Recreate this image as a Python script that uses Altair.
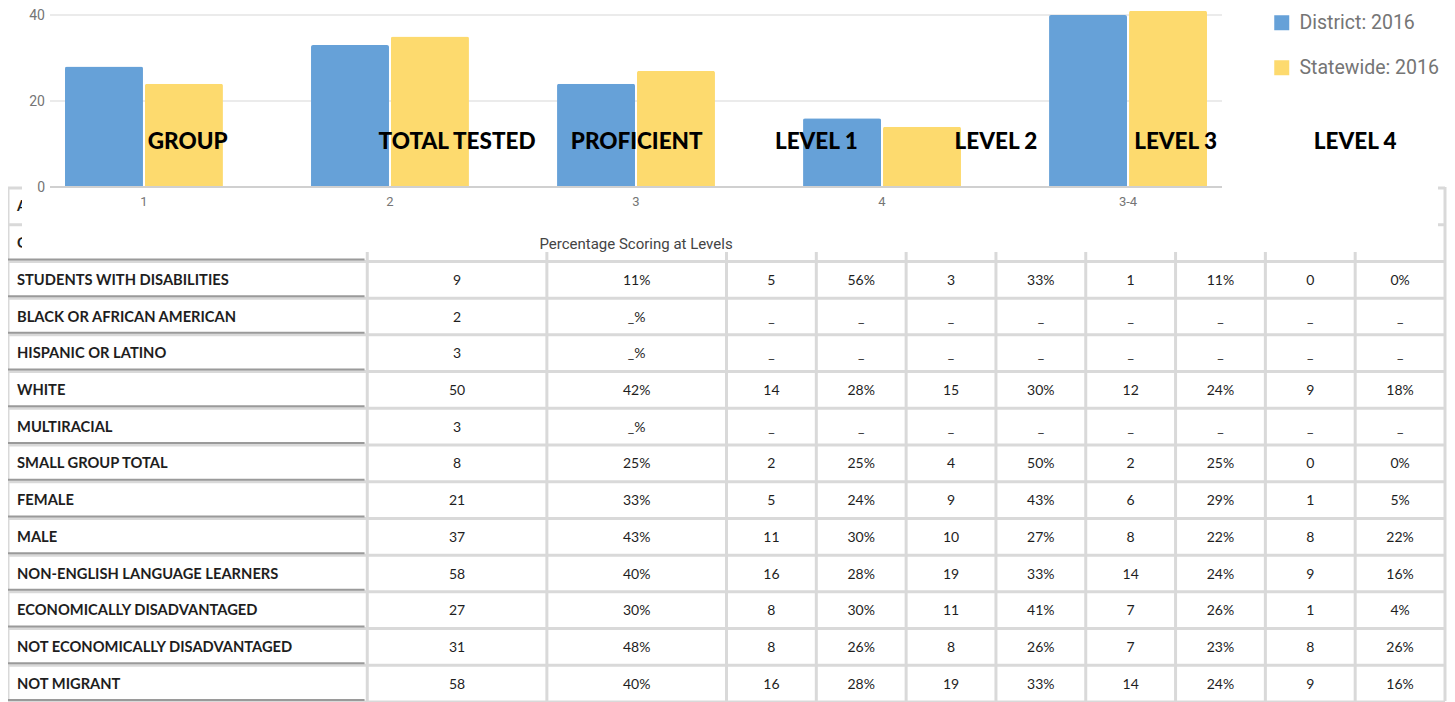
import altair as alt
import pandas as pd

# ---------------- data ----------------
categories = ["1", "2", "3", "4", "3-4"]
series_names = ["District: 2016", "Statewide: 2016"]
district_values = [28, 33, 24, 16, 40]
statewide_values = [24, 35, 27, 14, 41]
y_tick_values = [0, 20, 40]
x_axis_title = "Percentage Scoring at Levels"

header_labels = ["GROUP", "TOTAL TESTED", "PROFICIENT", "LEVEL 1", "LEVEL 2", "LEVEL 3", "LEVEL 4"]
hidden_row_labels = ["A", "G"]

groups = [
    "STUDENTS WITH DISABILITIES", "BLACK OR AFRICAN AMERICAN", "HISPANIC OR LATINO",
    "WHITE", "MULTIRACIAL", "SMALL GROUP TOTAL", "FEMALE", "MALE",
    "NON-ENGLISH LANGUAGE LEARNERS", "ECONOMICALLY DISADVANTAGED",
    "NOT ECONOMICALLY DISADVANTAGED", "NOT MIGRANT",
]
total_tested = ["9", "2", "3", "50", "3", "8", "21", "37", "58", "27", "31", "58"]
proficient = ["11%", "_%", "_%", "42%", "_%", "25%", "33%", "43%", "40%", "30%", "48%", "40%"]
level1_n = ["5", "_", "_", "14", "_", "2", "5", "11", "16", "8", "8", "16"]
level1_pct = ["56%", "_", "_", "28%", "_", "25%", "24%", "30%", "28%", "30%", "26%", "28%"]
level2_n = ["3", "_", "_", "15", "_", "4", "9", "10", "19", "11", "8", "19"]
level2_pct = ["33%", "_", "_", "30%", "_", "50%", "43%", "27%", "33%", "41%", "26%", "33%"]
level3_n = ["1", "_", "_", "12", "_", "2", "6", "8", "14", "7", "7", "14"]
level3_pct = ["11%", "_", "_", "24%", "_", "25%", "29%", "22%", "24%", "26%", "23%", "24%"]
level4_n = ["0", "_", "_", "9", "_", "0", "1", "8", "9", "1", "8", "9"]
level4_pct = ["0%", "_", "_", "18%", "_", "0%", "5%", "22%", "16%", "4%", "26%", "16%"]

# ---------------- layout / style ----------------
W, H = 1439, 694
BLUE, YELLOW = "#66A1D8", "#FDDA6E"
GRID_LIGHT = "#d9d9d9"
TEXT_GRAY = "#757575"

col_edges = [0, 4, 6, 8, 9, 10, 11, 12, 13, 14, 15, 16]   # table column units
n_rows = 2 + len(groups)

def TX():
    return alt.Scale(domain=[0, 16], range=[0, 1437])

def TY():
    return alt.Scale(domain=[0, n_rows], range=[179, 693])

def BX():
    return alt.Scale(domain=categories, range=[42, 1214], paddingInner=0.358, paddingOuter=0.061)

def BY():
    return alt.Scale(domain=[0, 40], range=[179, 7])

# ---------------- table frames ----------------
hl_df = pd.DataFrame({"y": list(range(n_rows + 1)), "x0": 0, "x1": 16})
vl_df = pd.DataFrame({"x": col_edges, "y0": 0, "y1": n_rows})
dark_df = pd.DataFrame({"y": list(range(2, n_rows + 1)), "x0": 0, "x1": 3.97})

label_rows = []
for i, lab in enumerate(hidden_row_labels + groups):
    label_rows.append({"label": lab, "row": i + 0.5, "x": 0})
labels_df = pd.DataFrame(label_rows)

value_cols = [total_tested, proficient, level1_n, level1_pct, level2_n, level2_pct,
              level3_n, level3_pct, level4_n, level4_pct]
value_rows = []
for i in range(len(groups)):
    for k, col in enumerate(value_cols):
        xc = (col_edges[k + 1] + col_edges[k + 2]) / 2
        value_rows.append({"txt": col[i], "row": i + 2.5, "x": xc})
values_df = pd.DataFrame(value_rows)

header_x = [2, 5, 7, 9, 11, 13, 15]
header_df = pd.DataFrame({"label": header_labels, "x": header_x})

hlines = alt.Chart(hl_df).mark_rule(color=GRID_LIGHT, strokeWidth=3, yOffset=1).encode(
    x=alt.X("x0:Q", scale=TX(), axis=None), x2="x1:Q",
    y=alt.Y("y:Q", scale=TY(), axis=None))
vlines = alt.Chart(vl_df).mark_rule(color=GRID_LIGHT, strokeWidth=3).encode(
    x=alt.X("x:Q", scale=TX(), axis=None),
    y=alt.Y("y0:Q", scale=TY(), axis=None), y2="y1:Q")
dlines = alt.Chart(dark_df).mark_rule(color="#9a9a9a", strokeWidth=2, yOffset=-1).encode(
    x=alt.X("x0:Q", scale=TX(), axis=None), x2="x1:Q",
    y=alt.Y("y:Q", scale=TY(), axis=None))
tlabels = alt.Chart(labels_df).mark_text(
    align="left", baseline="middle", dx=9, dy=2, font="Lato", fontWeight="bold",
    fontSize=14.7, color="#1e1e1e").encode(
    x=alt.X("x:Q", scale=TX(), axis=None),
    y=alt.Y("row:Q", scale=TY(), axis=None), text="label:N")
tvalues = alt.Chart(values_df).mark_text(
    align="center", baseline="middle", dy=2, font="Lato", fontSize=14, color="#1e1e1e").encode(
    x=alt.X("x:Q", scale=TX(), axis=None),
    y=alt.Y("row:Q", scale=TY(), axis=None), text="txt:N")

cover = alt.Chart(pd.DataFrame({"k": [0]})).mark_rect(color="white").encode(
    x=alt.value(14), x2=alt.value(1430), y=alt.value(0), y2=alt.value(244))

# ---------------- bar chart ----------------
bars_df = pd.DataFrame({
    "cat": categories * 2,
    "series": [series_names[0]] * len(categories) + [series_names[1]] * len(categories),
    "value": district_values + statewide_values,
})
grid = alt.Chart(pd.DataFrame({"v": y_tick_values[1:]})).mark_rule(
    color="#ebebeb", strokeWidth=2).encode(
    y=alt.Y("v:Q", scale=BY(), axis=None), x=alt.value(42), x2=alt.value(1214))
bars = alt.Chart(bars_df).mark_bar(cornerRadiusTopLeft=2, cornerRadiusTopRight=2).encode(
    x=alt.X("cat:N", scale=BX(), axis=None),
    xOffset=alt.XOffset("series:N", scale=alt.Scale(domain=series_names, paddingInner=0.025, paddingOuter=0)),
    y=alt.Y("value:Q", scale=BY(), axis=None),
    color=alt.Color("series:N", scale=alt.Scale(domain=series_names, range=[BLUE, YELLOW]),
                    legend=alt.Legend(orient="none", legendX=1264, legendY=5, title=None,
                                      symbolType="square", symbolSize=225, symbolStrokeWidth=0,
                                      labelFontSize=19.5, labelColor=TEXT_GRAY, labelFont="Roboto",
                                      rowPadding=24, labelOffset=8)))
baseline = alt.Chart(pd.DataFrame({"v": y_tick_values[:1]})).mark_rule(
    color="#d0d0d0", strokeWidth=2).encode(
    y=alt.Y("v:Q", scale=BY(), axis=None), x=alt.value(42), x2=alt.value(1214))
ylabels = alt.Chart(pd.DataFrame({"v": y_tick_values, "t": [str(v) for v in y_tick_values]})).mark_text(
    align="right", baseline="middle", dy=1, font="Roboto", fontSize=14, color=TEXT_GRAY).encode(
    y=alt.Y("v:Q", scale=BY(), axis=None), x=alt.value(37), text="t:N")
xlabels = alt.Chart(pd.DataFrame({"cat": categories})).mark_text(
    align="center", baseline="middle", font="Roboto", fontSize=13, color=TEXT_GRAY).encode(
    x=alt.X("cat:N", scale=BX(), axis=None), y=alt.value(194), text="cat:N")
xtitle = alt.Chart(pd.DataFrame({"t": [x_axis_title]})).mark_text(
    align="center", baseline="middle", font="Roboto", fontSize=15, color="#444444").encode(
    x=alt.value(628), y=alt.value(236), text="t:N")

bar_group = alt.layer(grid, bars, baseline, ylabels, xlabels, xtitle)

header = alt.Chart(header_df).mark_text(
    align="center", baseline="middle", font="Lato", fontWeight=900, fontSize=22.5, color="black").encode(
    x=alt.X("x:Q", scale=TX(), axis=None), y=alt.value(134), text="label:N")

chart = alt.layer(hlines, vlines, dlines, tlabels, tvalues, cover, bar_group, header).resolve_scale(
    x="independent", y="independent"
).properties(
    width=W, height=H, padding=0, autosize=alt.AutoSizeParams(type="none"),
    background="white"
).configure_view(stroke=None)

chart.save("out.html", embed_options={"renderer": "svg", "actions": False})
